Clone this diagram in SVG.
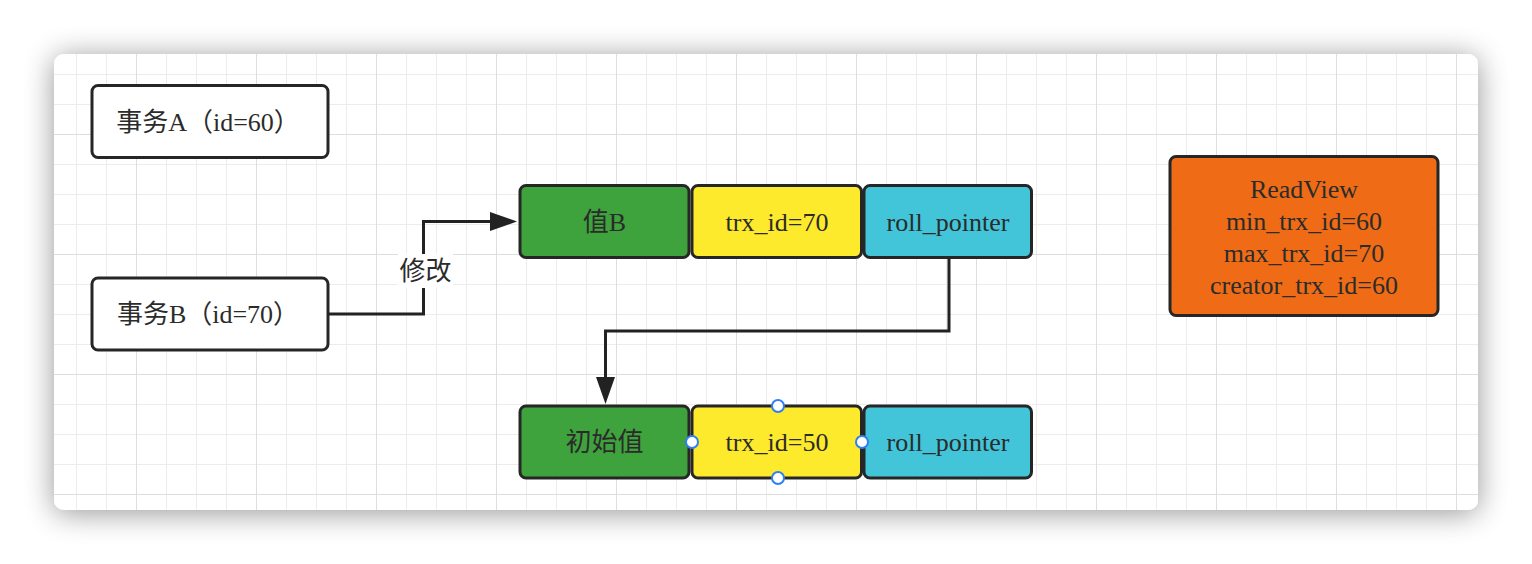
<svg xmlns="http://www.w3.org/2000/svg" width="1532" height="564" viewBox="0 0 1532 564">
  <defs>
    <style>
      .node { stroke: #262626; stroke-width: 3; }
      .t { font-family: "Liberation Serif", "Noto Sans CJK SC", serif; font-size: 26px; fill: #2b2b2b; text-anchor: middle; }
      .edge { fill: none; stroke: #222222; stroke-width: 3; }
      .handle { fill: #ffffff; stroke: #2f7ff5; stroke-width: 2; }
    </style>
    <filter id="shadow" x="-10%" y="-20%" width="120%" height="140%">
      <feGaussianBlur in="SourceAlpha" stdDeviation="15"/>
      <feOffset dx="0" dy="3" result="b"/>
      <feComponentTransfer><feFuncA type="linear" slope="0.42"/></feComponentTransfer>
      <feMerge><feMergeNode/><feMergeNode in="SourceGraphic"/></feMerge>
    </filter>
    <pattern id="grid" patternUnits="userSpaceOnUse" x="16" y="14" width="120" height="120">
      <rect x="30" y="0" width="1" height="120" fill="#ececec"/>
      <rect x="60" y="0" width="1" height="120" fill="#ececec"/>
      <rect x="90" y="0" width="1" height="120" fill="#ececec"/>
      <rect x="0" y="30" width="120" height="1" fill="#ececec"/>
      <rect x="0" y="60" width="120" height="1" fill="#ececec"/>
      <rect x="0" y="90" width="120" height="1" fill="#ececec"/>
      <rect x="0" y="0" width="1" height="120" fill="#dedede"/>
      <rect x="0" y="0" width="120" height="1" fill="#dedede"/>
    </pattern>
    <marker id="arrow" markerUnits="userSpaceOnUse" viewBox="0 0 27 20" markerWidth="27" markerHeight="20" refX="0" refY="10" orient="auto">
      <path d="M0,0.5 L27,10 L0,19.5 Z" fill="#222222"/>
    </marker>
  </defs>

  <rect x="0" y="0" width="1532" height="564" fill="#ffffff"/>
  <g id="card">
    <rect x="54" y="54" width="1424" height="456" rx="10" ry="10" fill="#ffffff" filter="url(#shadow)"/>
    <rect x="54" y="54" width="1424" height="456" rx="10" ry="10" fill="url(#grid)"/>
  </g>

  <g id="connectors">
    <path class="edge" d="M329,314 H423.5 V221.5 H490" marker-end="url(#arrow)"/>
    <g id="label-modify">
      <rect x="398" y="254" width="55" height="34" fill="#ffffff"/>
      <text class="t" x="425.5" y="279.5">修改</text>
    </g>
    <path class="edge" d="M949,258 V331 H605.5 V377" marker-end="url(#arrow)"/>
  </g>

  <g id="txA">
    <rect class="node" x="92" y="85.5" width="236" height="72" rx="6" fill="#ffffff"/>
    <text class="t" x="208" y="130.5">事务A（id=60）</text>
  </g>
  <g id="txB">
    <rect class="node" x="92" y="278" width="236" height="72" rx="6" fill="#ffffff"/>
    <text class="t" x="208" y="323">事务B（id=70）</text>
  </g>

  <g id="valB">
    <rect class="node" x="520" y="185.5" width="169" height="72" rx="6" fill="#3fa33d"/>
    <text class="t" x="604.5" y="230.5">值B</text>
  </g>
  <g id="trx70">
    <rect class="node" x="692" y="185.5" width="169.5" height="72" rx="6" fill="#feea2c"/>
    <text class="t" x="777" y="230.5">trx_id=70</text>
  </g>
  <g id="roll1">
    <rect class="node" x="864" y="185.5" width="167.5" height="72" rx="6" fill="#42c5d8"/>
    <text class="t" x="948" y="230.5">roll_pointer</text>
  </g>

  <g id="initVal">
    <rect class="node" x="520" y="406" width="169" height="72" rx="6" fill="#3fa33d"/>
    <text class="t" x="604.5" y="451">初始值</text>
  </g>
  <g id="trx50">
    <rect class="node" x="692" y="406" width="169.5" height="72" rx="6" fill="#feea2c"/>
    <text class="t" x="777" y="451">trx_id=50</text>
  </g>
  <g id="roll2">
    <rect class="node" x="864" y="406" width="167.5" height="72" rx="6" fill="#42c5d8"/>
    <text class="t" x="948" y="451">roll_pointer</text>
  </g>
  <g id="trx50-handles">
    <circle class="handle" cx="778" cy="406" r="6"/>
    <circle class="handle" cx="692" cy="442" r="6"/>
    <circle class="handle" cx="862" cy="442" r="6"/>
    <circle class="handle" cx="778" cy="478" r="6"/>
  </g>

  <g id="readview">
    <rect class="node" x="1170" y="156.5" width="268" height="159" rx="6" fill="#ef6b15"/>
    <text class="t" x="1304" y="197.5">ReadView</text>
    <text class="t" x="1304" y="229.5">min_trx_id=60</text>
    <text class="t" x="1304" y="261.5">max_trx_id=70</text>
    <text class="t" x="1304" y="293.5">creator_trx_id=60</text>
  </g>
</svg>
